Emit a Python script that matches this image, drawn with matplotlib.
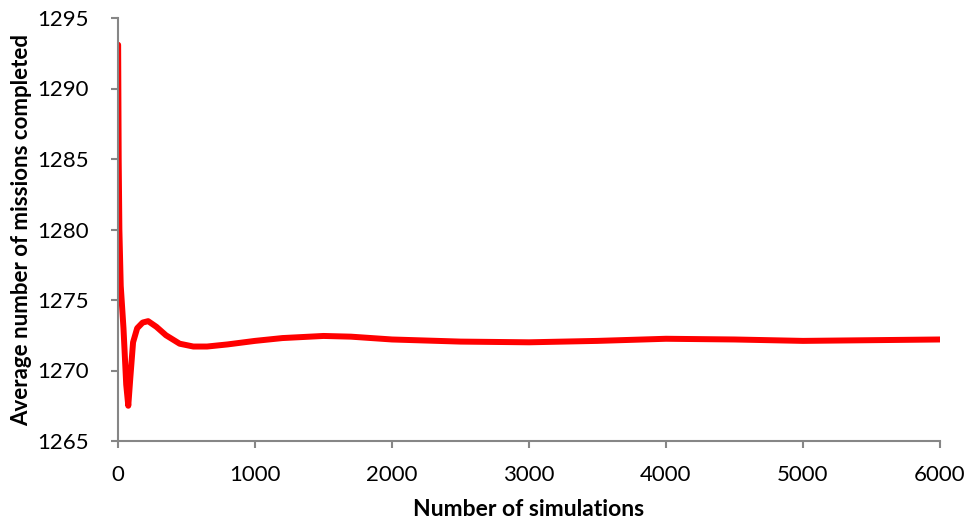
import matplotlib
matplotlib.use("Agg")
import matplotlib.pyplot as plt

plt.rcParams['font.family'] = ['Lato', 'DejaVu Sans']

# data
sims = [1, 5, 10, 20, 40, 60, 75, 90, 110, 140, 180, 220, 280, 350, 450, 550,
        650, 800, 1000, 1200, 1500, 1700, 2000, 2500, 3000, 3500, 4000, 4500,
        5000, 5500, 6000]
avg_missions = [1293.1, 1285.0, 1280.0, 1276.0, 1273.0, 1269.0, 1267.5, 1269.5,
                1272.0, 1273.0, 1273.4, 1273.5, 1273.1, 1272.5, 1271.9, 1271.7,
                1271.7, 1271.85, 1272.1, 1272.3, 1272.45, 1272.4, 1272.2, 1272.05,
                1272.0, 1272.1, 1272.25, 1272.2, 1272.1, 1272.15, 1272.2]
xticks = [0, 1000, 2000, 3000, 4000, 5000, 6000]
yticks = [1265, 1270, 1275, 1280, 1285, 1290, 1295]

fig = plt.figure(figsize=(9.65, 5.24), dpi=100)
ax = fig.add_axes([118/965, 1 - 441/524, (940-118)/965, (441-18)/524])

ax.plot(sims, avg_missions, color='#ff0000', lw=4.3, solid_joinstyle='round',
        solid_capstyle='round')

ax.set_xlim(0, 6000)
ax.set_ylim(1265, 1295)
ax.set_xticks(xticks)
ax.set_yticks(yticks)

for s in ['top', 'right']:
    ax.spines[s].set_visible(False)
for s in ['left', 'bottom']:
    ax.spines[s].set_color('#868686')
    ax.spines[s].set_linewidth(1.5)
ax.tick_params(direction='out', length=5, width=1.5, color='#868686',
               labelsize=16)
ax.tick_params(axis='y', pad=16)
ax.tick_params(axis='x', pad=12)

ax.set_xlabel('Number of simulations', fontsize=16.5, fontweight='bold', labelpad=10)
ax.set_ylabel('Average number of missions completed', fontsize=16,
              fontweight='bold', labelpad=4)

fig.savefig('out.png', dpi=100)
